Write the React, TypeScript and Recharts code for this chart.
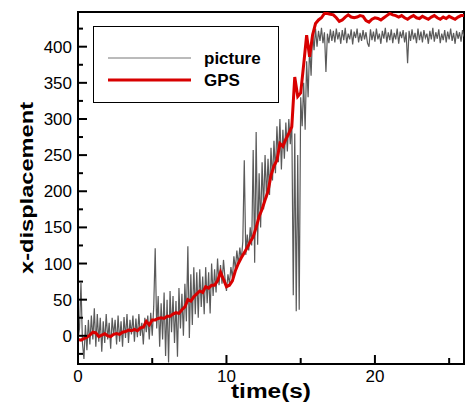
import { LineChart, Line, XAxis, YAxis, Legend, ReferenceArea } from "recharts";

// sampled every 0.1 s (image tracking)
const pictureStep = 0.1;
const pictureValues = [
  -5, 10, 73, -10, -32, 15, -20, 22, -12, 28,
  -5, 38, -15, 30, -8, 25, -22, 20, -10, 30,
  -5, 18, -18, 25, 0, 22, -12, 28, -8, 20,
  -15, 26, -3, 30, -10, 22, 2, 28, -8, 24,
  -2, 30, 0, 18, -12, 25, 5, 28, -5, 32,
  0, 40, 121, 10, 55, -15, 45, -5, 60, -28,
  50, -37, 62, 5, 55, -10, 48, -29, 66, 10,
  58, 0, 72, 20, 124, -3, 85, 15, 95, 30,
  88, 25, 92, 40, 82, 30, 95, 45, 88, 31,
  100, 55, 92, 60, 107, 70, 98, 72, 105, 80,
  62, 85, 72, 95, 80, 110, 92, 118, 98, 122,
  105, 130, 243, 112, 140, 118, 150, 125, 257, 101,
  282, 126, 225, 150, 240, 175, 250, 190, 245, 195,
  260, 215, 270, 225, 290, 240, 300, 230, 285, 245,
  295, 255, 300, 265, 300, 56, 280, 34, 250, 36,
  330, 290, 350, 285, 380, 330, 400, 360, 420, 395,
  425, 400, 422, 408, 426, 405, 420, 365, 418, 405,
  424, 408, 422, 406, 425, 410, 420, 404, 423, 409,
  426, 405, 418, 410, 424, 403, 421, 412, 425, 406,
  419, 408, 423, 410, 420, 405, 400, 424, 409, 421,
  407, 425, 410, 418, 404, 422, 411, 426, 406, 420,
  409, 424, 405, 419, 410, 425, 404, 421, 412, 423,
  406, 420, 377, 422, 408, 424, 410, 419, 405, 425,
  409, 421, 406, 423, 412, 418, 404, 422, 410, 426,
  407, 420, 411, 424, 405, 418, 409, 423, 406, 421,
  410, 425, 408, 419, 404, 422, 411, 420, 407, 423,
  414,
];

// sampled every 0.2 s
const gpsStep = 0.2;
const gpsValues = [
  -5, -6, -4, -2, 1,
  5, 4, -1, 1, 3,
  0, -1, 2, 3, 2,
  5, 6, 8, 7, 9,
  7, 11, 12, 20, 15,
  22, 22, 24, 25, 24,
  27, 27, 30, 32, 31,
  36, 40, 50, 48, 54,
  58, 62, 60, 68, 66,
  70, 70, 76, 88, 78,
  68, 70, 76, 90, 100,
  108, 115, 122, 130, 137,
  150, 165, 175, 188, 200,
  222, 235, 243, 266, 262,
  272, 280, 289, 358, 331,
  336, 375, 416, 386, 416,
  432, 437, 440, 446, 446,
  445, 444, 440, 435, 437,
  441, 444, 441, 440, 441,
  443, 442, 436, 434, 438,
  440, 439, 437, 440, 443,
  446, 444, 443, 441, 443,
  440, 438, 441, 443, 440,
  439, 442, 440, 438, 441,
  443, 440, 438, 441, 439,
  442, 440, 438, 441, 443,
  443,
];

const seriesNames = ["picture", "GPS"];
const xDomain = [0, 26];
const yDomain = [-39, 448];
const xTicks = [0, 5, 10, 15, 20, 25];
const xLabelTicks = [0, 10, 20];
const yTicks = [-25, 0, 25, 50, 75, 100, 125, 150, 175, 200, 225, 250, 275, 300, 325, 350, 375, 400, 425];
const yLabelTicks = [0, 50, 100, 150, 200, 250, 300, 350, 400];

const pictureData = pictureValues.map((v, i) => ({ t: Math.round(i * pictureStep * 10) / 10, x: v }));
const gpsData = gpsValues.map((v, i) => ({ t: Math.round(i * gpsStep * 10) / 10, x: v }));

const FONT = "Liberation Sans, Arial, Helvetica, sans-serif";
const GRAY = "#5a5a5a";
const RED = "#d80000";

function XTick({ x, y, payload }: any) {
  const v = payload.value;
  const major = xLabelTicks.includes(v);
  return (
    <g>
      <line x1={x} x2={x} y1={y} y2={y - (major ? 9 : 6)} stroke="#000" strokeWidth={2} />
      {major && (
        <text x={x} y={y + 18} textAnchor="middle" fontSize={17} fontFamily={FONT} fill="#000">
          {v}
        </text>
      )}
    </g>
  );
}

function YTick({ x, y, payload }: any) {
  const v = payload.value;
  const major = yLabelTicks.includes(v);
  return (
    <g>
      <line x1={x} x2={x + (major ? 9 : 5)} y1={y} y2={y} stroke="#000" strokeWidth={2} />
      {major && (
        <text x={x - 6} y={y + 6} textAnchor="end" fontSize={17} fontFamily={FONT} fill="#000">
          {v}
        </text>
      )}
    </g>
  );
}

function YTitle() {
  return (
    <text
      x={33}
      y={188}
      transform="rotate(-90, 33, 188)"
      textAnchor="middle"
      fontSize={19}
      fontWeight="bold"
      fontFamily={FONT}
      textLength={172}
      lengthAdjust="spacingAndGlyphs"
      fill="#000"
    >
      x-displacement
    </text>
  );
}

function XTitle() {
  return (
    <text
      x={271}
      y={398}
      textAnchor="middle"
      fontSize={20}
      fontWeight="bold"
      fontFamily={FONT}
      textLength={80}
      lengthAdjust="spacingAndGlyphs"
      fill="#000"
    >
      time(s)
    </text>
  );
}

function LegendBox({ payload }: any) {
  const items = [...(payload || [])].sort(
    (a: any, b: any) => seriesNames.indexOf(a.value) - seriesNames.indexOf(b.value)
  );
  return (
    <svg width={186} height={77} style={{ display: "block" }}>
      <rect x={0.5} y={0.5} width={185} height={76} fill="#fff" stroke="#000" strokeWidth={1} />
      {items.map((entry: any, i: number) => {
        const cy = 32 + i * 22;
        const isGps = entry.value === "GPS";
        return (
          <g key={entry.value}>
            <line
              x1={15}
              x2={98}
              y1={cy}
              y2={cy}
              stroke={isGps ? entry.color : "#777"}
              strokeWidth={isGps ? 3 : 1}
            />
            <text x={111} y={cy + 6} fontSize={17} fontWeight="bold" fontFamily={FONT} fill="#000">
              {entry.value}
            </text>
          </g>
        );
      })}
    </svg>
  );
}

export default function App() {
  return (
    <div style={{ position: "absolute", left: 0, top: 0, background: "#fff", fontFamily: FONT }}>
      <LineChart
        width={466}
        height={403}
        margin={{ top: 12, right: 2, bottom: 0, left: 0 }}
        style={{ fontFamily: FONT }}
      >
        <XAxis
          dataKey="t"
          type="number"
          domain={xDomain}
          ticks={xTicks}
          interval={0}
          allowDataOverflow
          height={39}
          tickSize={0}
          tickMargin={0}
          tickLine={false}
          axisLine={{ stroke: "#000", strokeWidth: 2 }}
          tick={<XTick />}
          label={<XTitle />}
        />
        <YAxis
          type="number"
          domain={yDomain}
          ticks={yTicks}
          interval={0}
          allowDataOverflow
          width={78}
          tickSize={0}
          tickMargin={0}
          tickLine={false}
          axisLine={{ stroke: "#000", strokeWidth: 2 }}
          tick={<YTick />}
          label={<YTitle />}
        />
        <ReferenceArea
          x1={xDomain[0]}
          x2={xDomain[1]}
          y1={yDomain[0]}
          y2={yDomain[1]}
          fill="none"
          fillOpacity={0}
          stroke="#000"
          strokeWidth={2}
          strokeOpacity={1}
        />
        <Line
          data={pictureData}
          dataKey="x"
          name="picture"
          type="linear"
          stroke={GRAY}
          strokeWidth={1.2}
          dot={false}
          activeDot={false}
          isAnimationActive={false}
        />
        <Line
          data={gpsData}
          dataKey="x"
          name="GPS"
          type="linear"
          stroke={RED}
          strokeWidth={3}
          dot={false}
          activeDot={false}
          isAnimationActive={false}
        />
        <Legend
          layout="vertical"
          align="center"
          verticalAlign="middle"
          content={<LegendBox />}
          wrapperStyle={{ left: 93, top: 26, width: 186, height: 77 }}
        />
      </LineChart>
    </div>
  );
}
